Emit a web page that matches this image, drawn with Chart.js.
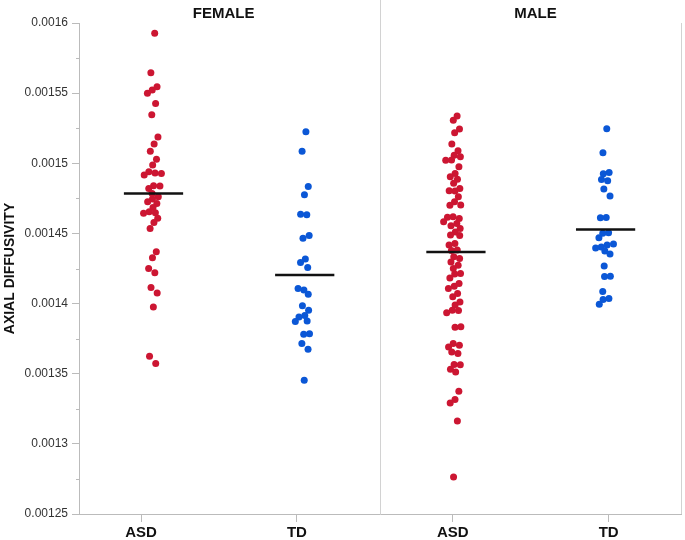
<!DOCTYPE html>
<html>
<head>
<meta charset="utf-8">
<script src="https://cdn.jsdelivr.net/npm/chart.js@4/dist/chart.umd.min.js"></script>
<style>
  html, body { margin: 0; padding: 0; background: #fff; }
  #wrap { width: 685px; height: 540px; }
</style>
</head>
<body>
<div id="wrap"><canvas id="chart" width="685" height="540"></canvas></div>
<script>
// Data
const panels = ['FEMALE', 'MALE'];
const categories = ['ASD', 'TD', 'ASD', 'TD'];
const yTicks = [0.00125, 0.0013, 0.00135, 0.0014, 0.00145, 0.0015, 0.00155, 0.0016];

const femaleAsd = [
    0.0015927, 0.0015646, 0.0015546, 0.0015522, 0.0015499, 0.0015427, 0.0015346, 0.0015187,
    0.0015137, 0.0015085, 0.0015028, 0.0014987, 0.0014939, 0.0014930, 0.0014916, 0.0014927,
    0.0014840, 0.0014821, 0.0014838, 0.0014785, 0.0014761, 0.0014745, 0.0014725, 0.0014714,
    0.0014685, 0.0014654, 0.0014647, 0.0014643, 0.0014609, 0.0014578, 0.0014536, 0.0014369,
    0.0014326, 0.0014250, 0.0014219, 0.0014115, 0.0014076, 0.0013976, 0.0013625, 0.0013573
];
const femaleTd = [
    0.0015225, 0.0015085, 0.0014835, 0.0014775, 0.0014637, 0.0014633, 0.0014466, 0.0014486,
    0.0014317, 0.0014293, 0.0014257, 0.0014096, 0.0014108, 0.0014067, 0.0013984, 0.0013953,
    0.0013915, 0.0013905, 0.0013876, 0.0013872, 0.0013784, 0.0013782, 0.0013715, 0.0013675,
    0.0013454
];
const maleAsd = [
    0.0015337, 0.0015306, 0.0015244, 0.0015218, 0.0015137, 0.0015089, 0.0015058, 0.0015046,
    0.0015023, 0.0015021, 0.0014975, 0.0014928, 0.0014904, 0.0014887, 0.0014857, 0.0014821,
    0.0014802, 0.0014804, 0.0014761, 0.0014725, 0.0014702, 0.0014700, 0.0014618, 0.0014607,
    0.0014616, 0.0014583, 0.0014571, 0.0014554, 0.0014536, 0.0014511, 0.0014488, 0.0014486,
    0.0014429, 0.0014417, 0.0014381, 0.0014379, 0.0014322, 0.0014333, 0.0014297, 0.0014274,
    0.0014250, 0.0014215, 0.0014210, 0.0014183, 0.0014143, 0.0014124, 0.0014108, 0.0014072,
    0.0014048, 0.0014012, 0.0013989, 0.0013953, 0.0013951, 0.0013934, 0.0013834, 0.0013832,
    0.0013715, 0.0013703, 0.0013691, 0.0013655, 0.0013644, 0.0013566, 0.0013564, 0.0013532,
    0.0013513, 0.0013375, 0.0013316, 0.0013292, 0.0013163, 0.0012764
];
const maleTd = [
    0.0015246, 0.0015075, 0.0014935, 0.0014925, 0.0014885, 0.0014875, 0.0014816, 0.0014766,
    0.0014614, 0.0014612, 0.0014504, 0.0014502, 0.0014469, 0.0014417, 0.0014404, 0.0014424,
    0.0014397, 0.0014374, 0.0014354, 0.0014267, 0.0014195, 0.0014193, 0.0014086, 0.0014036,
    0.0014029, 0.0013996
];
const groupMeans = [0.0014784, 0.0014203, 0.0014367, 0.0014528];

const groups = [femaleAsd, femaleTd, maleAsd, maleTd];
const RED = '#cc1632';
const BLUE = '#0b57d6';
const groupColors = [RED, BLUE, RED, BLUE];
// small shift of each swarm from its tick, as in the reference
const groupShift = [0.08, 0.05, 0.02, -0.02];
const FONT = '"Liberation Sans", Arial, Helvetica, sans-serif';

const pointSets = groups.map((vals, g) => ({
    type: 'scatter',
    data: vals.map(v => ({ x: g + groupShift[g], y: v })),
    backgroundColor: groupColors[g],
    borderWidth: 0,
    pointRadius: 3.5,
    pointHoverRadius: 3.5,
    order: 2
}));
const meanSets = groupMeans.map((m, g) => ({
    type: 'line',
    data: [{ x: g + groupShift[g] - 0.19, y: m }, { x: g + groupShift[g] + 0.19, y: m }],
    borderColor: '#111',
    borderWidth: 2.5,
    pointRadius: 0,
    order: 1
}));

// panel divider, right frame, minor ticks, panel titles
const decor = {
    id: 'decor',
    beforeDatasetsDraw(chart) {
        const { ctx, chartArea: a, scales: { x, y } } = chart;
        ctx.save();
        ctx.lineWidth = 1;
        ctx.strokeStyle = '#d2d2d2';
        const xd = Math.round(x.getPixelForValue(1.536)) + 0.5;
        ctx.beginPath();
        ctx.moveTo(xd, 0);
        ctx.lineTo(xd, a.bottom);
        ctx.moveTo(Math.round(a.right) - 0.5, a.top);
        ctx.lineTo(Math.round(a.right) - 0.5, a.bottom);
        ctx.stroke();

        ctx.strokeStyle = '#bbb';
        ctx.beginPath();
        for (let i = 0; i < yTicks.length - 1; i++) {
            const py = Math.round(y.getPixelForValue((yTicks[i] + yTicks[i + 1]) / 2)) + 0.5;
            ctx.moveTo(a.left - 3, py);
            ctx.lineTo(a.left, py);
        }
        ctx.stroke();

        ctx.fillStyle = '#111';
        ctx.font = 'bold 15px ' + FONT;
        ctx.textAlign = 'center';
        ctx.textBaseline = 'middle';
        ctx.fillText(panels[0], x.getPixelForValue(0.53), 14);
        ctx.fillText(panels[1], x.getPixelForValue(2.53), 14);
        ctx.restore();
    }
};

const chart = new Chart(document.getElementById('chart'), {
    data: { datasets: pointSets.concat(meanSets) },
    options: {
        responsive: false,
        animation: false,
        layout: { padding: { top: 23, right: 1.5, bottom: 0, left: 0 } },
        plugins: { legend: { display: false }, tooltip: { enabled: false } },
        scales: {
            x: {
                type: 'linear',
                min: -0.398,
                max: 3.467,
                afterBuildTicks: s => { s.ticks = categories.map((c, i) => ({ value: i })); },
                afterFit: s => { s.height = 26; },
                ticks: {
                    callback: v => categories[Math.round(v)],
                    color: '#111',
                    font: { family: FONT, size: 15, weight: 'bold' },
                    padding: 2,
                    maxRotation: 0
                },
                grid: { drawOnChartArea: false, tickLength: 8, tickColor: '#bbb' },
                border: { color: '#bbb' }
            },
            y: {
                type: 'linear',
                min: 0.00125,
                max: 0.0016,
                afterBuildTicks: s => { s.ticks = yTicks.map(v => ({ value: v })); },
                afterFit: s => { s.width = 79; },
                ticks: {
                    callback: v => String(Number(v.toFixed(6))),
                    color: '#333',
                    font: { family: FONT, size: 12 },
                    padding: 4
                },
                grid: { drawOnChartArea: false, tickLength: 7, tickColor: '#bbb' },
                border: { color: '#bbb' },
                title: {
                    display: true,
                    text: 'AXIAL DIFFUSIVITY',
                    color: '#111',
                    font: { family: FONT, size: 14, weight: 'bold' },
                    padding: { top: 2, bottom: 0 }
                }
            }
        }
    },
    plugins: [decor]
});

// spread the dots sideways so they do not sit on top of each other
function swarm(values, yScale, pxPerUnit) {
    const placed = [];
    return values.map((v, i) => {
        const py = yScale.getPixelForValue(v);
        const pref = (((i + 1) * 0.618034) % 1 - 0.5) * 10;
        let dx = pref;
        for (let k = 0; k <= 40; k++) {
            const cand = pref + (k % 2 ? -1 : 1) * Math.ceil(k / 2);
            if (placed.every(p => Math.hypot(p.x - cand, p.y - py) >= 5.5)) { dx = cand; break; }
        }
        placed.push({ x: dx, y: py });
        return dx / pxPerUnit;
    });
}

const xs = chart.scales.x;
const unit = xs.getPixelForValue(1) - xs.getPixelForValue(0);
groups.forEach((vals, g) => {
    const offs = swarm(vals, chart.scales.y, unit);
    chart.data.datasets[g].data = vals.map((v, i) => ({ x: g + groupShift[g] + offs[i], y: v }));
});
chart.update('none');
</script>
</body>
</html>
